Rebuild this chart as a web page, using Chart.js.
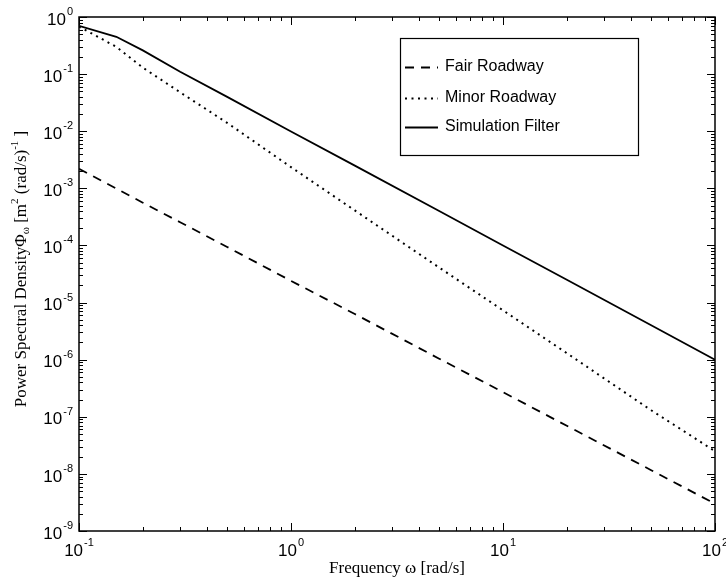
<!DOCTYPE html>
<html>
<head>
<meta charset="utf-8">
<script src="https://cdn.jsdelivr.net/npm/chart.js@4.4.1/dist/chart.umd.min.js"></script>
<style>
  html, body { margin: 0; padding: 0; background: #fff; }
  canvas { display: block; }
</style>
</head>
<body>
<canvas id="chart" width="726" height="578"></canvas>
<script>
// frequency samples [rad/s] and the three PSD curves [m^2 (rad/s)^-1]
const freq = [0.1, 0.15, 0.2, 0.3, 0.5, 1, 2, 5, 10, 20, 50, 100];
const fairRoadway = [2.2e-3, 9.9e-4, 5.6e-4, 2.55e-4, 9.4e-5, 2.4e-5, 6.3e-6, 1.04e-6, 2.7e-7, 6.95e-8, 1.16e-8, 3.0e-9];
const minorRoadway = [0.68, 0.3, 0.13, 0.048, 0.014, 2.35e-3, 4.1e-4, 4.1e-5, 7.3e-6, 1.3e-6, 1.3e-7, 2.5e-8];
const simulationFilter = [0.70, 0.45, 0.26, 0.11, 0.04, 9.9e-3, 2.5e-3, 4.0e-4, 1.0e-4, 2.5e-5, 4.0e-6, 1.0e-6];

const seriesNames = ['Fair Roadway', 'Minor Roadway', 'Simulation Filter'];
const xDecades = [-1, 0, 1, 2];
const yDecades = [0, -1, -2, -3, -4, -5, -6, -7, -8, -9];

const SANS = '"Liberation Sans", Arial, Helvetica, sans-serif';
const SERIF = '"Liberation Serif", "Times New Roman", serif';

function points(values) {
    return freq.map((f, i) => ({ x: f, y: values[i] }));
}

// "10" with a raised exponent
function drawPower(ctx, exp, x, y, align) {
    const sup = String(exp);
    ctx.font = '17px ' + SANS;
    const wBase = ctx.measureText('10').width;
    ctx.font = '11px ' + SANS;
    const wSup = ctx.measureText(sup).width;
    let x0 = align === 'right' ? x - wBase - wSup - 1 : x - (wBase + wSup + 1) / 2;
    ctx.textAlign = 'left';
    ctx.textBaseline = 'middle';
    ctx.font = '17px ' + SANS;
    ctx.fillText('10', x0, y);
    ctx.font = '11px ' + SANS;
    ctx.fillText(sup, x0 + wBase + 1, y - 8);
}

// inward log ticks on all four sides, decade labels, titles and the legend box
const frame_plugin = {
    id: 'frame',
    afterDraw(chart) {
        const ctx = chart.ctx;
        const a = chart.chartArea;
        const xs = chart.scales.x;
        const ys = chart.scales.y;
        ctx.save();
        ctx.strokeStyle = '#000';
        ctx.fillStyle = '#000';

        ctx.lineWidth = 1.5;
        ctx.strokeRect(a.left, a.top, a.right - a.left, a.bottom - a.top);

        ctx.lineWidth = 1;
        ctx.beginPath();
        xDecades.forEach(d => {
            for (let k = 1; k <= 9; k++) {
                const v = k * Math.pow(10, d);
                if (v > xs.max * 1.0001) break;
                const px = Math.round(xs.getPixelForValue(v)) + 0.5;
                const len = k === 1 ? 8 : 4;
                ctx.moveTo(px, a.bottom); ctx.lineTo(px, a.bottom - len);
                ctx.moveTo(px, a.top); ctx.lineTo(px, a.top + len);
            }
        });
        yDecades.forEach(d => {
            for (let k = 1; k <= 9; k++) {
                const v = k * Math.pow(10, d);
                if (v > ys.max * 1.0001) break;
                const py = Math.round(ys.getPixelForValue(v)) + 0.5;
                const len = k === 1 ? 8 : 4;
                ctx.moveTo(a.left, py); ctx.lineTo(a.left + len, py);
                ctx.moveTo(a.right, py); ctx.lineTo(a.right - len, py);
            }
        });
        ctx.stroke();

        xDecades.forEach(d => {
            drawPower(ctx, d, xs.getPixelForValue(Math.pow(10, d)), a.bottom + 20, 'center');
        });
        yDecades.forEach(d => {
            drawPower(ctx, d, a.left - 6, ys.getPixelForValue(Math.pow(10, d)) + 3, 'right');
        });

        // x axis title
        ctx.font = '17px ' + SERIF;
        ctx.textAlign = 'center';
        ctx.textBaseline = 'middle';
        ctx.fillText('Frequency \u03c9 [rad/s]', (a.left + a.right) / 2, a.bottom + 38);

        // y axis title, rotated, with sub/superscripts
        const parts = [
            ['Power Spectral Density', 17, 0],
            ['\u03a6', 17, 0],
            ['\u03c9', 11, 4],
            [' [m', 17, 0],
            ['2', 11, -7],
            [' (rad/s)', 17, 0],
            ['-1', 11, -7],
            [' ]', 17, 0]
        ];
        let total = 0;
        parts.forEach(p => { ctx.font = p[1] + 'px ' + SERIF; total += ctx.measureText(p[0]).width; });
        ctx.translate(22, (a.top + a.bottom) / 2 - 5);
        ctx.rotate(-Math.PI / 2);
        ctx.textAlign = 'left';
        let cx = -total / 2;
        parts.forEach(p => {
            ctx.font = p[1] + 'px ' + SERIF;
            ctx.fillText(p[0], cx, p[2]);
            cx += ctx.measureText(p[0]).width;
        });
        ctx.setTransform(1, 0, 0, 1, 0, 0);

        // legend
        const box = { left: 400, top: 38, right: 638, bottom: 155 };
        ctx.fillStyle = '#fff';
        ctx.fillRect(box.left, box.top, box.right - box.left, box.bottom - box.top);
        ctx.lineWidth = 1.2;
        ctx.strokeRect(box.left + 0.5, box.top + 0.5, box.right - box.left, box.bottom - box.top);
        const rows = [67, 98, 127];
        chart.data.datasets.forEach((ds, i) => {
            ctx.save();
            ctx.lineWidth = ds.borderWidth;
            ctx.setLineDash(ds.borderDash || []);
            ctx.beginPath();
            ctx.moveTo(405, rows[i] + 0.5);
            ctx.lineTo(438, rows[i] + 0.5);
            ctx.stroke();
            ctx.restore();
            ctx.fillStyle = '#000';
            ctx.font = '16px ' + SANS;
            ctx.textAlign = 'left';
            ctx.textBaseline = 'middle';
            ctx.fillText(ds.label, 445, rows[i]);
        });
        ctx.restore();
    }
};

const chart_config = {
    type: 'line',
    data: {
        datasets: [{
            label: seriesNames[0],
            data: points(fairRoadway),
            borderColor: '#000',
            borderWidth: 1.8,
            borderDash: [9, 7]
        }, {
            label: seriesNames[1],
            data: points(minorRoadway),
            borderColor: '#000',
            borderWidth: 2,
            borderDash: [2, 4.5]
        }, {
            label: seriesNames[2],
            data: points(simulationFilter),
            borderColor: '#000',
            borderWidth: 1.8
        }]
    },
    options: {
        responsive: false,
        animation: false,
        devicePixelRatio: 1,
        layout: {
            padding: { left: 79, right: 11, top: 17, bottom: 47 }
        },
        elements: {
            point: { radius: 0 },
            line: { tension: 0 }
        },
        scales: {
            x: { type: 'logarithmic', min: 0.1, max: 100, display: false },
            y: { type: 'logarithmic', min: 1e-9, max: 1, display: false }
        },
        plugins: {
            legend: { display: false },
            tooltip: { enabled: false }
        }
    },
    plugins: [frame_plugin]
};

var chart = new Chart(
    document.getElementById('chart'),
    chart_config
);
</script>
</body>
</html>
